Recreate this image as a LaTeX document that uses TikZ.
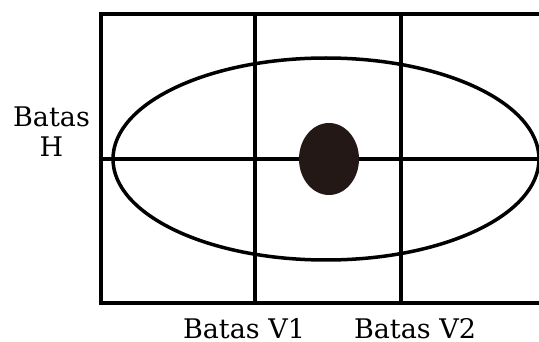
\documentclass[tikz,border=0pt]{standalone}
\usepackage{fontspec}
\setmainfont{DejaVu Serif}
\usetikzlibrary{shapes.geometric}
\begin{document}
\begin{tikzpicture}[x=1pt,y=-1pt,
  edge/.style={line width=3.5pt, black},
  lbl/.style={font=\fontsize{27}{30}\selectfont, inner sep=0pt}]
\useasboundingbox (0,0) rectangle (539,342);
\coordinate (tl) at (101,14);
\coordinate (tr) at (539,14);
\coordinate (bl) at (101,303);
\coordinate (br) at (539,303);
\coordinate (v1t) at (255,14);
\coordinate (v1b) at (255,303);
\coordinate (v2t) at (401,14);
\coordinate (v2b) at (401,303);
\coordinate (hl) at (101,159);
\coordinate (hr) at (539,159);
\draw[edge] (tr) -- (tl) -- (bl) -- (br);
\draw[edge] (v1t) -- (v1b);
\draw[edge] (v2t) -- (v2b);
\draw[edge] (hl) -- (hr);
\node[draw, line width=3.5pt, ellipse, minimum width=426pt, minimum height=202pt, inner sep=0pt] (ell) at (326,159) {};
\node[fill={rgb,255:red,35;green,24;blue,21}, ellipse, minimum width=60pt, minimum height=72pt, inner sep=0pt] (dot) at (329,159) {};
\node[lbl, anchor=base, align=center] (bh) at (51.5,157) {Batas\\H};
\node[lbl, anchor=base] (bv1) at (244,338) {Batas V1};
\node[lbl, anchor=base] (bv2) at (415,338) {Batas V2};
\end{tikzpicture}
\end{document}
